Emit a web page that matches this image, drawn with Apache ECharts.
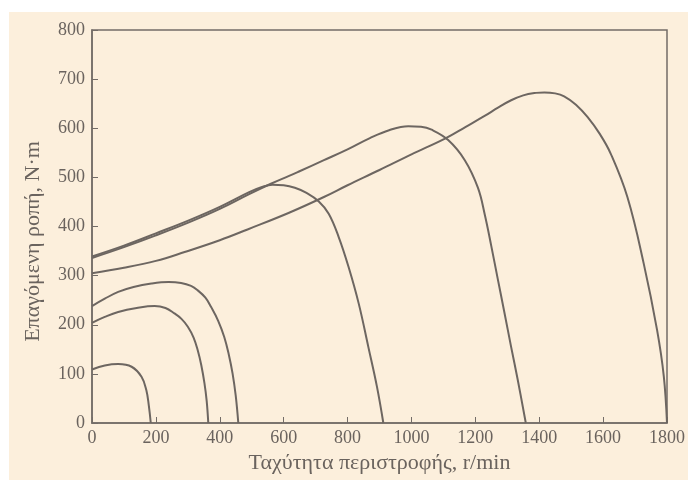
<!DOCTYPE html>
<html>
<head>
<meta charset="utf-8">
<script src="https://cdn.jsdelivr.net/npm/echarts@6/dist/echarts.min.js"></script>
<style>
html,body{margin:0;padding:0;background:#ffffff;width:688px;height:480px;overflow:hidden;}
#chart{position:absolute;left:9px;top:12px;width:679px;height:468px;}
</style>
</head>
<body>
<div id="chart"></div>
<script>
const xTicks = [0,200,400,600,800,1000,1200,1400,1600,1800];
const yTicks = [0,100,200,300,400,500,600,700,800];

const curve180 = [[0,109],[40,117],[82,120],[124,114.5],[155,94],[170,67],[178,35],[184,0]];
const curve365 = [[0,204],[40,216],[82,226],[140,234],[196,238],[230,234],[258,223],[280,212],[300,196],[318,174],[331,148],[342,118],[352,81],[359,45],[364,0]];
const curve455 = [[0,238],[40,253],[82,267],[130,277],[186,284],[240,287],[279,285],[310,279],[331,270],[355,255],[373,236],[395,208],[414,175],[428,140],[440,101],[450,55],[458,0]];
const curve910 = [[0,339],[100,361],[200,386],[305,413],[400,440],[492,470],[530,480],[565,485],[600,484],[635,479],[670,469],[710,451],[741,426],[772,379],[803,318],[835,243],[865,155],[892,74],[912,0]];
const curve1360 = [[0,336],[100,358],[200,382],[305,409],[400,436],[492,466],[560,487],[617,503],[648,512],[726,535],[800,557],[870,580],[930,596],[990,604],[1030,603],[1063,597],[1115,576],[1167,535],[1208,479],[1230,423],[1250,360],[1270,294],[1291,225],[1312,155],[1333,87],[1358,0]];
const curve1800 = [[0,305],[100,316],[200,330],[290,348],[400,372],[487,394],[617,428],[726,460],[800,484],[900,515],[1000,547],[1105,579],[1170,603],[1229,625],[1271,642],[1312,657],[1350,667],[1390,672],[1416,673],[1450,671],[1478,665],[1515,648],[1551,623],[1590,588],[1624,548],[1676,460],[1727,325],[1769,189],[1790,95],[1800,0]];

const curves = [curve180, curve365, curve455, curve910, curve1360, curve1800];
const lineColor = '#6d6661';
const axisColor = '#736c67';
const textColor = '#6a635e';
const font = '"Liberation Serif", "Times New Roman", serif';

const chart = echarts.init(document.getElementById('chart'), null, {renderer:'canvas'});
chart.setOption({
  backgroundColor: '#fcefdc',
  animation: false,
  grid: {left: 83, top: 18, right: 18, bottom: 57, show: true, borderColor: axisColor, borderWidth: 1.5, backgroundColor: 'transparent'},
  xAxis: {
    type: 'value', min: xTicks[0], max: xTicks[xTicks.length-1], interval: 200,
    name: 'Ταχύτητα περιστροφής, r/min', nameLocation: 'middle', nameGap: 29,
    nameTextStyle: {fontFamily: font, fontSize: 22, color: textColor},
    axisLine: {show: true, lineStyle: {color: axisColor, width: 1.5}},
    axisTick: {show: true, inside: true, length: 6, lineStyle: {color: axisColor}},
    axisLabel: {fontFamily: font, fontSize: 18, color: textColor, margin: 6, formatter: v => String(v)},
    splitLine: {show: false}
  },
  yAxis: {
    type: 'value', min: yTicks[0], max: yTicks[yTicks.length-1], interval: 100,
    name: 'Επαγόμενη ροπή, N·m', nameLocation: 'middle', nameGap: 48, nameRotate: 90,
    nameTextStyle: {fontFamily: font, fontSize: 22, color: textColor, padding: [0, 30, 0, 0]},
    axisLine: {show: true, lineStyle: {color: axisColor, width: 1.5}},
    axisTick: {show: true, inside: true, length: 6, lineStyle: {color: axisColor}},
    axisLabel: {fontFamily: font, fontSize: 18, color: textColor, margin: 7, formatter: v => String(v)},
    splitLine: {show: false}
  },
  series: curves.map(c => ({
    type: 'line', data: c, smooth: 0.4, showSymbol: false, symbol: 'none',
    lineStyle: {color: lineColor, width: 2}
  }))
});
</script>
</body>
</html>
